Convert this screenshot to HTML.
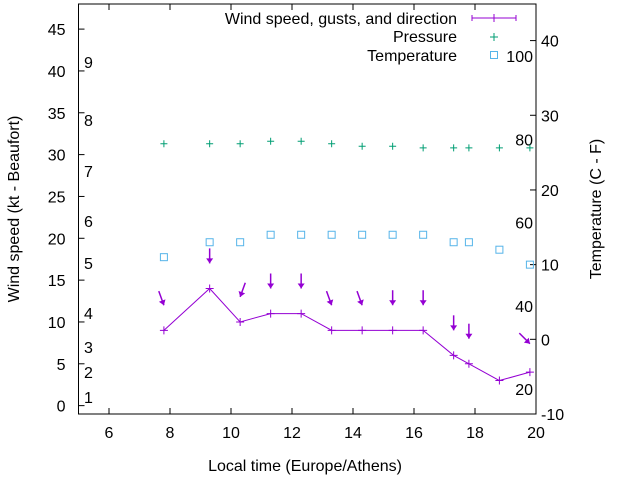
<!DOCTYPE html>
<html><head><meta charset="utf-8"><style>
body{margin:0;background:#fff}
text{font-family:"Liberation Sans",sans-serif;font-size:16px;fill:#000}
</style></head><body>
<svg id="c" width="640" height="480" xmlns="http://www.w3.org/2000/svg"></svg>
<script>
const times=[7.8,9.3,10.3,11.3,12.3,13.3,14.3,15.3,16.3,17.3,17.8,18.8,19.8];
const wind=[9,14,10,11,11,9,9,9,9,6,5,3,4];
const gusts=[12,17,13,14,14,12,12,12,12,9,8,null,7.4];
const dirs=[20,0,-20,0,0,20,20,0,0,0,0,null,45];
const pressure=[31.3,31.3,31.3,31.6,31.6,31.3,31.0,31.0,30.8,30.8,30.8,30.8,30.8];
const temps=[11,13,13,14,14,14,14,14,14,13,13,12,10];
const xTicks=[6,8,10,12,14,16,18,20];
const yTicks=[0,5,10,15,20,25,30,35,40,45];
const y2Ticks=[-10,0,10,20,30,40];
const beaufort=[[1,397],[2,372],[3,347],[4,313],[5,263],[6,221],[7,171],[8,120],[9,62]];
const pLabels=[20,40,60,80,100];

const L=78.5,R=536,T=4,B=414;
const X=v=>L+(v-5)*(R-L)/15;
const Y=v=>B-(v+1)*(B-T)/49;
const Y2=v=>B-(v+10)*(B-T)/54.9;
const Yp=v=>389-(v-20)*(389-56)/80;
const s=document.getElementById('c');const NS='http://www.w3.org/2000/svg';
function mk(t,a,txt){const e=document.createElementNS(NS,t);for(const k in a)e.setAttribute(k,a[k]);if(txt!=null)e.textContent=txt;s.appendChild(e);return e;}

let e=mk('rect',{x:L,y:T,width:R-L,height:B-T,fill:'none',stroke:'#000','stroke-width':1});

xTicks.forEach(v=>{
 mk('line',{x1:X(v),x2:X(v),y1:B,y2:B-6,stroke:'#000'});
 mk('line',{x1:X(v),x2:X(v),y1:T,y2:T+6,stroke:'#000'});
 e=mk('text',{x:X(v),y:B+24,'text-anchor':'middle'},v);
 
});
yTicks.forEach(v=>{
 mk('line',{x1:L,x2:L+6,y1:Y(v),y2:Y(v),stroke:'#000'});
 e=mk('text',{x:L-13,y:Y(v)+6,'text-anchor':'end'},v);
 
});
y2Ticks.forEach(v=>{
 mk('line',{x1:R,x2:R-6,y1:Y2(v),y2:Y2(v),stroke:'#000'});
 e=mk('text',{x:R+5,y:Y2(v)+6},v);
 
});
beaufort.forEach(b=>{e=mk('text',{x:84,y:b[1]+6},b[0]);
 });
pLabels.forEach(p=>{e=mk('text',{x:533,y:Yp(p)+6,'text-anchor':'end'},p);
 });

e=mk('text',{x:305,y:471,'text-anchor':'middle'},'Local time (Europe/Athens)');

e=mk('text',{x:0,y:0,'text-anchor':'middle',transform:'translate(19,209) rotate(-90)'},'Wind speed (kt - Beaufort)');

e=mk('text',{x:0,y:0,'text-anchor':'middle',transform:'translate(601,209) rotate(-90)'},'Temperature (C - F)');


const P='#9400d3',G='#009e73',B2='#56b4e9';
e=mk('polyline',{points:times.map((t,i)=>X(t)+','+Y(wind[i])).join(' '),fill:'none',stroke:P,'stroke-width':1});

times.forEach((t,i)=>{
 const x=X(t),y=Y(wind[i]);
 e=mk('path',{d:`M${x-4},${y}H${x+4}M${x},${y-4}V${y+4}`,stroke:P});
 
 if(gusts[i]!=null){
  const gx=x,gy=Y(gusts[i]),a=dirs[i]*Math.PI/180,len=15;
  const sx=gx-Math.sin(a)*len,sy=gy-Math.cos(a)*len;
  const ux=Math.sin(a),uy=Math.cos(a);
  const bx=gx-ux*5,by=gy-uy*5;
  const g=mk('g',{});
  
  const l=document.createElementNS(NS,'line');
  [['x1',sx],['y1',sy],['x2',gx],['y2',gy],['stroke',P],['stroke-width',1.5]].forEach(p=>l.setAttribute(p[0],p[1]));g.appendChild(l);
  const h=document.createElementNS(NS,'polygon');
  h.setAttribute('points',`${gx},${gy} ${bx+uy*3.5},${by-ux*3.5} ${bx-uy*3.5},${by+ux*3.5}`);h.setAttribute('fill',P);g.appendChild(h);
 }
 const px=x,py=Y(pressure[i]);
 e=mk('path',{d:`M${px-3.5},${py}H${px+3.5}M${px},${py-3.5}V${py+3.5}`,stroke:G});
 
 e=mk('rect',{x:x-3.5,y:Y2(temps[i])-3.5,width:7,height:7,fill:'none',stroke:B2});
 
});

// legend
e=mk('text',{x:457,y:24,'text-anchor':'end'},'Wind speed, gusts, and direction');

mk('path',{d:'M472,18H516M472,15V21M516,15V21M494,14V22',stroke:P});
e=mk('text',{x:457,y:42,'text-anchor':'end'},'Pressure');

mk('path',{d:'M490,37H498M494,33V41',stroke:G});
e=mk('text',{x:457,y:61,'text-anchor':'end'},'Temperature');

mk('rect',{x:490.5,y:51.5,width:7,height:7,fill:'none',stroke:B2});
</script>
</body></html>
